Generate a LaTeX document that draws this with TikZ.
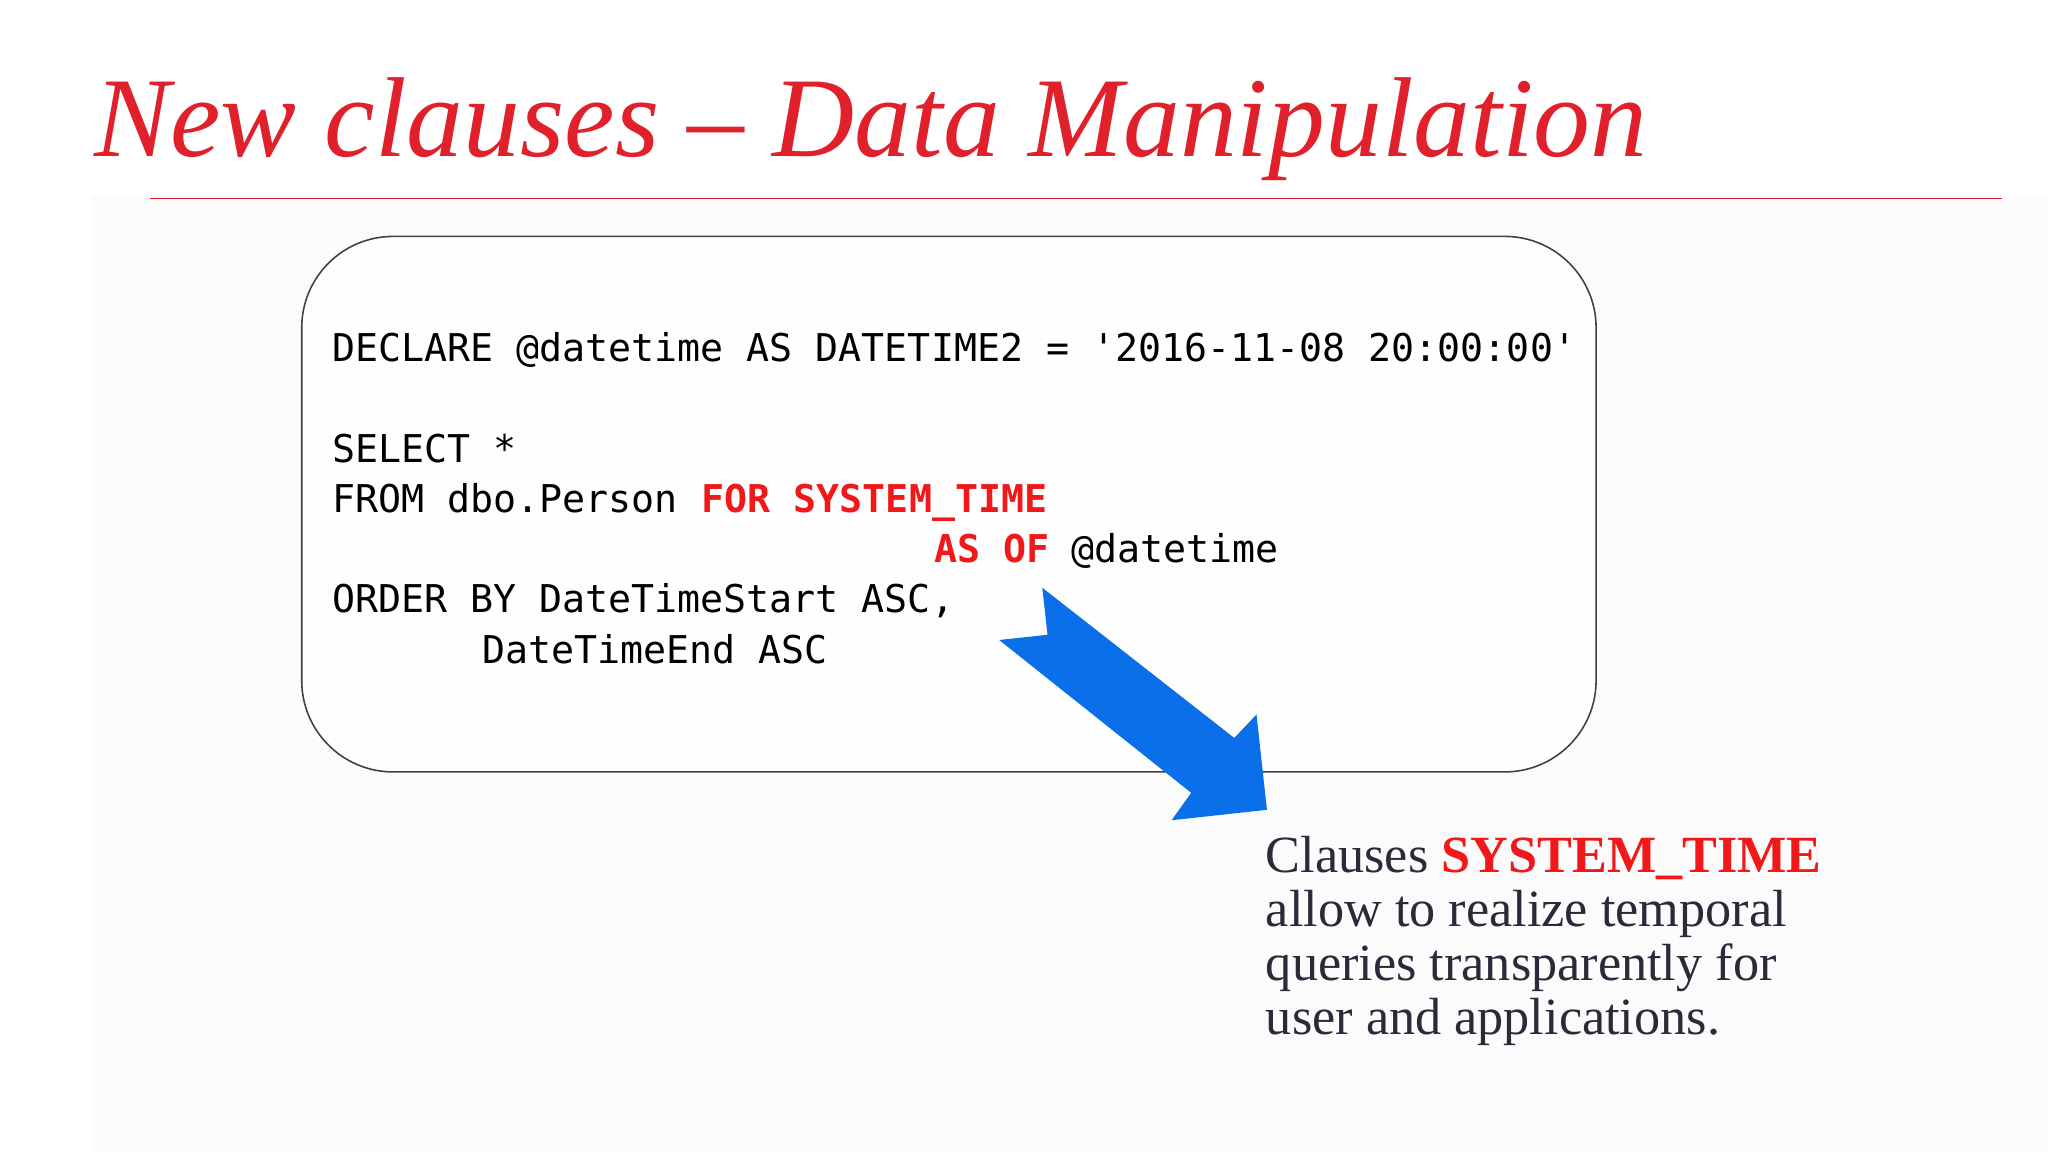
\documentclass[tikz,border=0pt]{standalone}
\usepackage{fontspec}
\setmainfont{Liberation Serif}
\setmonofont{DejaVu Sans Mono}
\definecolor{tred}{HTML}{E0202A}
\definecolor{cred}{HTML}{F01818}
\definecolor{arrowblue}{HTML}{0A6FE8}
\definecolor{bodyc}{HTML}{2A2A3A}
\begin{document}
\begin{tikzpicture}[x=1pt,y=-1pt,
  code/.style={anchor=base west,inner sep=0pt,font=\fontsize{29.3}{30}\selectfont\ttfamily,text=black},
  kw/.style={code,text=cred,font=\fontsize{29.3}{30}\selectfont\ttfamily\bfseries},
  body/.style={anchor=base west,inner sep=0pt,font=\fontsize{40}{42}\selectfont,text=bodyc}]
\useasboundingbox (0,0) rectangle (1568,882);
\fill[white] (0,0) rectangle (1568,882);
\fill[black!1.5] (70,150) rectangle (1568,882);
\node[anchor=base west,inner sep=0pt,text=tred,font=\fontsize{87}{90}\selectfont\itshape] (title) at (72,120) {New clauses – Data Manipulation};
\coordinate (l1) at (115,152); \coordinate (l2) at (1533,152);
\draw[tred,line width=1.2pt] (l1) -- (l2);
\draw[black!75,line width=1.2pt,rounded corners=70pt,fill=black!0.5] (231,181) rectangle (1222,591);
\node[code] (c1) at (254,277) {DECLARE @datetime AS DATETIME2 = '2016-11-08 20:00:00'};
\node[code] (c2) at (254,354) {SELECT *};
\node[code] (c3) at (254,392) {FROM dbo.Person};
\node[kw] (c3b) at (537,392) {FOR SYSTEM\_TIME};
\node[kw] (c4) at (715,431) {AS OF};
\node[code] (c4b) at (820,431) {@datetime};
\node[code] (c5) at (254,469) {ORDER BY DateTimeStart ASC,};
\node[code] (c6) at (369,508) {DateTimeEnd ASC};
\fill[arrowblue] (798,450) -- (945,565) -- (962,547) -- (970,620) -- (897,628) -- (912,607) -- (765,490) -- (802,486) -- cycle;
\node[body] (b1) at (969,668) {Clauses \textcolor{cred}{\textbf{SYSTEM\_TIME}}};
\node[body] (b2) at (969,709) {allow to realize temporal};
\node[body] (b3) at (969,751) {queries transparently for};
\node[body] (b4) at (969,792) {user and applications.};
\end{tikzpicture}
\end{document}
